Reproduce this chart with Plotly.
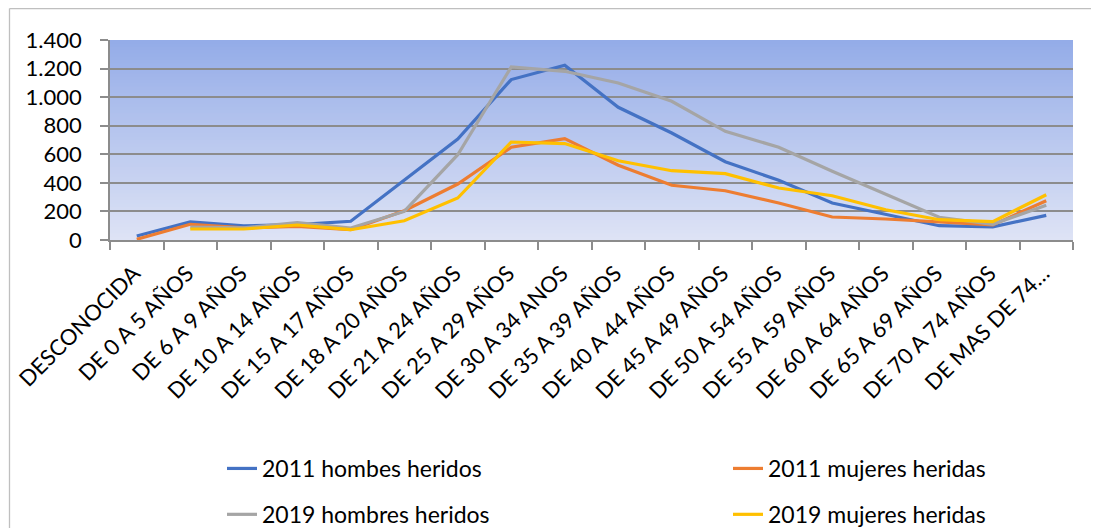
import plotly.graph_objects as go

categories = ["DESCONOCIDA", "DE 0 A 5 AÑOS", "DE 6 A 9 AÑOS", "DE 10 A 14 AÑOS",
              "DE 15 A 17 AÑOS", "DE 18 A 20 AÑOS", "DE 21 A 24 AÑOS", "DE 25 A 29 AÑOS",
              "DE 30 A 34 ANOS", "DE 35 A 39 AÑOS", "DE 40 A 44 AÑOS", "DE 45 A 49 AÑOS",
              "DE 50 A 54 AÑOS", "DE 55 A 59 AÑOS", "DE 60 A 64 AÑOS", "DE 65 A 69 AÑOS",
              "DE 70 A 74 AÑOS", "DE MAS DE 74…"]

hombres_2011 = [28, 127, 99, 108, 131, 420, 707, 1123, 1223, 929, 749, 548, 418, 259, 177, 100, 92, 172]
mujeres_2011 = [5, 110, 85, 96, 72, 205, 392, 649, 710, 523, 383, 345, 259, 161, 147, 126, 106, 275]
hombres_2019 = [None, 90, 85, 122, 84, 200, 597, 1211, 1181, 1099, 971, 761, 649, 481, 317, 159, 110, 244]
mujeres_2019 = [None, 77, 77, 105, 72, 135, 294, 686, 675, 555, 485, 464, 364, 310, 212, 142, 129, 317]

series_names = ["2011 hombes heridos", "2011 mujeres heridas", "2019 hombres heridos", "2019 mujeres heridas"]
series_values = [hombres_2011, mujeres_2011, hombres_2019, mujeres_2019]
series_colors = ["#4472C4", "#ED7D31", "#A5A5A5", "#FFC000"]
series_legend = ["legend", "legend2", "legend", "legend2"]

y_ticks = [0, 200, 400, 600, 800, 1000, 1200, 1400]
y_ticktext = ["0", "200", "400", "600", "800", "1.000", "1.200", "1.400"]

FONT = "Lato"
OFF = 8  # page body margin offset
W, H = 1099 - OFF, 528 - OFF
ML = 110 - OFF
MT = 40 - OFF
MR = 1099 - 1073
MB = 528 - 240.5
PW = W - ML - MR
PH = H - MT - MB

fig = go.Figure()
for name, vals, col, lg in zip(series_names, series_values, series_colors, series_legend):
    fig.add_trace(go.Scatter(
        x=categories, y=vals, name=name, mode="lines",
        line=dict(color=col, width=3.2), legend=lg, legendgroup=name,
        connectgaps=False,
    ))

# gradient background for the plot area
top = (148, 172, 232)
bot = (222, 227, 245)
N = 60
shapes = []
for i in range(N):
    t = i / (N - 1)
    c = tuple(round(bot[k] + (top[k] - bot[k]) * t) for k in range(3))
    shapes.append(dict(type="rect", xref="x domain", yref="y domain",
                       x0=0, x1=1, y0=i / N, y1=min(1, (i + 1.6) / N),
                       fillcolor="rgb(%d,%d,%d)" % c, line=dict(width=0), layer="below"))

# reference pixel -> paper coordinates
def px_x(p):
    return (p - OFF - ML) / PW

def px_y(p):
    return (H - MB - (p - OFF)) / PH

frame_col = "#BFBFBF"
shapes.append(dict(type="line", xref="paper", yref="paper",
                   x0=px_x(9.5), x1=px_x(9.5), y0=px_y(8.5), y1=px_y(540),
                   line=dict(color=frame_col, width=1.3)))
shapes.append(dict(type="line", xref="paper", yref="paper",
                   x0=px_x(9.5), x1=px_x(1110), y0=px_y(8.5), y1=px_y(8.5),
                   line=dict(color=frame_col, width=1.3)))

grid_col = "#8C8C8C"
fig.update_layout(
    width=W, height=H,
    margin=dict(l=ML, r=MR, t=MT, b=MB, autoexpand=False),
    paper_bgcolor="white", plot_bgcolor="rgba(0,0,0,0)",
    font=dict(family=FONT, size=22, color="#000000"),
    shapes=shapes,
    xaxis=dict(
        type="category", range=[-0.5, len(categories) - 0.5],
        tickangle=-45, tickson="boundaries", ticks="outside", ticklen=8,
        tickcolor=grid_col, tickwidth=1.5,
        showline=True, linecolor=grid_col, linewidth=1.8,
        showgrid=False, tickfont=dict(family=FONT, size=22, color="#000000"),
        ticklabelstandoff=10, ticklabelshift=-3,
    ),
    yaxis=dict(
        range=[0, 1400], tickvals=y_ticks, ticktext=y_ticktext,
        showgrid=True, gridcolor=grid_col, gridwidth=1.6,
        ticks="outside", ticklen=8, tickcolor=grid_col, tickwidth=1.6,
        showline=True, linecolor=grid_col, linewidth=1.6,
        zeroline=False, tickfont=dict(family=FONT, size=22, color="#000000"),
        ticklabelstandoff=14,
    ),
    legend=dict(
        x=px_x(222), xanchor="left", y=px_y(448), yanchor="top",
        orientation="v", bgcolor="rgba(0,0,0,0)", tracegroupgap=13,
        font=dict(family=FONT, size=23, color="#000000"),
    ),
    legend2=dict(
        x=px_x(728), xanchor="left", y=px_y(448), yanchor="top",
        orientation="v", bgcolor="rgba(0,0,0,0)", tracegroupgap=13,
        font=dict(family=FONT, size=23, color="#000000"),
    ),
    showlegend=True,
)

fig.write_html("out.html")
